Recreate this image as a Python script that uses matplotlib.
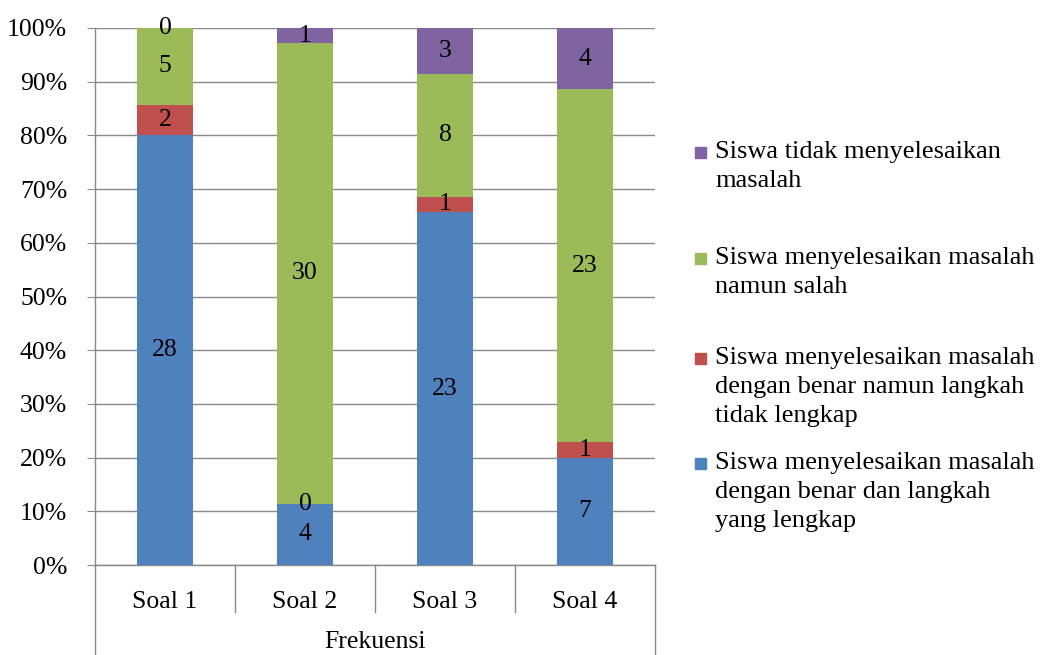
import matplotlib.pyplot as plt
import numpy as np
from matplotlib.patches import Rectangle
import matplotlib.transforms as mtransforms
from matplotlib.ticker import FuncFormatter

plt.rcParams['font.family'] = ['Liberation Serif', 'DejaVu Serif']

categories = ["Soal 1", "Soal 2", "Soal 3", "Soal 4"]
group_label = "Frekuensi"
series_names = [
    "Siswa menyelesaikan masalah\ndengan benar dan langkah\nyang lengkap",
    "Siswa menyelesaikan masalah\ndengan benar namun langkah\ntidak lengkap",
    "Siswa menyelesaikan masalah\nnamun salah",
    "Siswa tidak menyelesaikan\nmasalah",
]
benar_lengkap = [28, 4, 23, 7]
benar_tidak_lengkap = [2, 0, 1, 1]
salah = [5, 30, 8, 23]
tidak_selesai = [0, 1, 3, 4]
colors = ["#4F81BD", "#C0504D", "#9BBB59", "#8064A2"]
grid_color = "#898989"
fs = 18.5

series = [benar_lengkap, benar_tidak_lengkap, salah, tidak_selesai]
counts = np.array(series, dtype=float)
totals = counts.sum(axis=0)
pct = counts / totals * 100

fig = plt.figure(figsize=(10.4, 6.55), dpi=100)
ax = fig.add_axes([95 / 1040, 1 - 565 / 655, 560 / 1040, 537 / 655])

x = np.arange(len(categories))
bottom = np.zeros(len(categories))
for i in range(len(series)):
    ax.bar(x, pct[i], 0.4, bottom=bottom, color=colors[i], zorder=3)
    for j in range(len(categories)):
        ax.text(x[j], bottom[j] + pct[i][j] / 2, "%d" % counts[i][j],
                ha='center', va='center', fontsize=fs, zorder=4)
    bottom += pct[i]

ax.set_xlim(-0.5, len(categories) - 0.5)
ax.set_ylim(0, 100)
ax.set_yticks(np.arange(0, 101, 10))
ax.yaxis.set_major_formatter(FuncFormatter(lambda v, p: "%d%%" % v))
ax.grid(axis='y', color=grid_color, linewidth=1.0, zorder=0)
ax.tick_params(axis='y', length=6, color=grid_color, labelsize=fs, pad=14)
ax.set_xticks(x)
ax.set_xticklabels(categories, fontsize=fs)
ax.tick_params(axis='x', length=0, pad=19)
for s in ['top', 'right']:
    ax.spines[s].set_visible(False)
for s in ['left', 'bottom']:
    ax.spines[s].set_color(grid_color)
    ax.spines[s].set_linewidth(1.0)

# category axis dividers
trans = mtransforms.blended_transform_factory(ax.transData, ax.transAxes)
for k in range(len(categories) + 1):
    xpos = k - 0.5
    y_end = -0.168 if k in (0, len(categories)) else -0.088
    ax.plot([xpos, xpos], [0, y_end], color=grid_color, linewidth=1.0,
            transform=trans, clip_on=False)
ax.text((len(categories) - 1) / 2, -0.143, group_label, transform=trans,
        ha='center', va='center', fontsize=fs)

# legend, top entry is the last series
legend_y = [152, 258, 358, 463]
for n, i in enumerate(reversed(range(len(series)))):
    yy = 1 - legend_y[n] / 655
    fig.add_artist(Rectangle((695 / 1040, yy - 6 / 655), 11 / 1040, 11 / 655,
                             color=colors[i], transform=fig.transFigure))
    fig.text(715 / 1040, yy + 11 / 655, series_names[i], ha='left', va='top',
             fontsize=19, linespacing=1.42)

plt.savefig("out.png", dpi=100)
